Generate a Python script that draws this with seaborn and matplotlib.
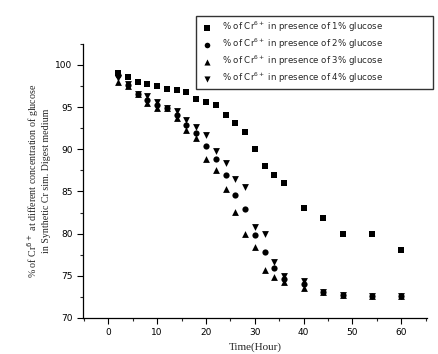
import matplotlib
matplotlib.use("Agg")
import matplotlib.pyplot as plt
import seaborn as sns
import pandas as pd
from matplotlib.ticker import MultipleLocator

# time points (hours)
t_1 = [2, 4, 6, 8, 10, 12, 14, 16, 18, 20, 22, 24, 26, 28, 30, 32, 34, 36, 40, 44, 48, 54, 60]
g_1 = [99.0, 98.6, 98.0, 97.7, 97.5, 97.1, 97.0, 96.8, 96.0, 95.6, 95.2, 94.1, 93.1, 92.0, 90.0,
       88.0, 87.0, 86.0, 83.0, 81.9, 79.9, 79.9, 78.0]

t_2 = [2, 4, 6, 8, 10, 12, 14, 16, 18, 20, 22, 24, 26, 28, 30, 32, 34, 36, 40, 44, 48, 54, 60]
g_2 = [98.8, 97.6, 96.6, 95.9, 95.2, 94.9, 94.1, 92.9, 91.9, 90.4, 88.9, 86.9, 84.6, 82.9, 79.8,
       77.8, 75.9, 74.6, 74.0, 73.1, 72.7, 72.6, 72.6]
g_3 = [98.0, 97.5, 96.6, 95.5, 94.9, 94.9, 93.7, 92.3, 91.3, 88.9, 87.5, 85.3, 82.6, 79.9, 78.4,
       75.7, 74.9, 74.2, 73.6, 73.1, 72.7, 72.6, 72.6]
g_4 = [98.4, 97.7, 96.6, 96.3, 95.6, 94.9, 94.5, 93.5, 92.6, 91.7, 89.8, 88.4, 86.5, 85.5, 80.8,
       79.9, 76.6, 75.0, 74.4, 73.1, 72.7, 72.6, 72.6]

labels = ["% of Cr$^{6+}$ in presence of 1% glucose",
          "% of Cr$^{6+}$ in presence of 2% glucose",
          "% of Cr$^{6+}$ in presence of 3% glucose",
          "% of Cr$^{6+}$ in presence of 4% glucose"]

sns.set_style("ticks")
plt.rcParams['font.family'] = ['DejaVu Sans']

fig = plt.figure(figsize=(4.39, 3.54), dpi=100)
ax = fig.add_axes([0.189, 0.102, 0.784, 0.774])

series = [(t_1, g_1, "s", 22), (t_2, g_2, "o", 20), (t_2, g_3, "^", 24), (t_2, g_4, "v", 24)]
for (tt, gg, mk, sz), lab in zip(series, labels):
    df = pd.DataFrame({"time": tt, "value": gg})
    sns.scatterplot(data=df, x="time", y="value", marker=mk, s=sz, color="black",
                    edgecolor="black", linewidth=0, label=lab, ax=ax)

ax.set_xlim(-5.2, 65.3)
ax.set_ylim(70, 102.5)
ax.xaxis.set_major_locator(MultipleLocator(10))
ax.xaxis.set_minor_locator(MultipleLocator(5))
ax.yaxis.set_major_locator(MultipleLocator(5))
ax.yaxis.set_minor_locator(MultipleLocator(2.5))
ax.tick_params(which="major", direction="out", length=4, width=0.8, labelsize=6.5, colors="black")
ax.tick_params(which="minor", direction="out", length=2.5, width=0.8)
sns.despine(ax=ax)
for s in ["left", "bottom"]:
    ax.spines[s].set_linewidth(0.9)
    ax.spines[s].set_color("black")

ax.set_xlabel("Time(Hour)", fontsize=8, family="Liberation Serif", labelpad=4)
ax.set_ylabel("% of Cr$^{6+}$ at different concentration of glucose\n"
              "in Synthetic Cr sim. Digest medium",
              fontsize=7.2, family="Liberation Serif", labelpad=3, linespacing=1.1)

leg = ax.legend(loc="upper left", bbox_to_anchor=(0.437, 0.775, 0.56, 0.192),
                bbox_transform=fig.transFigure, mode="expand",
                frameon=True, fancybox=False, fontsize=6.2, markerscale=0.9,
                handletextpad=0.9, borderpad=0.45, labelspacing=0.3, handlelength=1.6)
leg.get_frame().set_edgecolor("black")
leg.get_frame().set_linewidth(1.0)
leg.set_zorder(5)

fig.savefig("out.png", dpi=100)
